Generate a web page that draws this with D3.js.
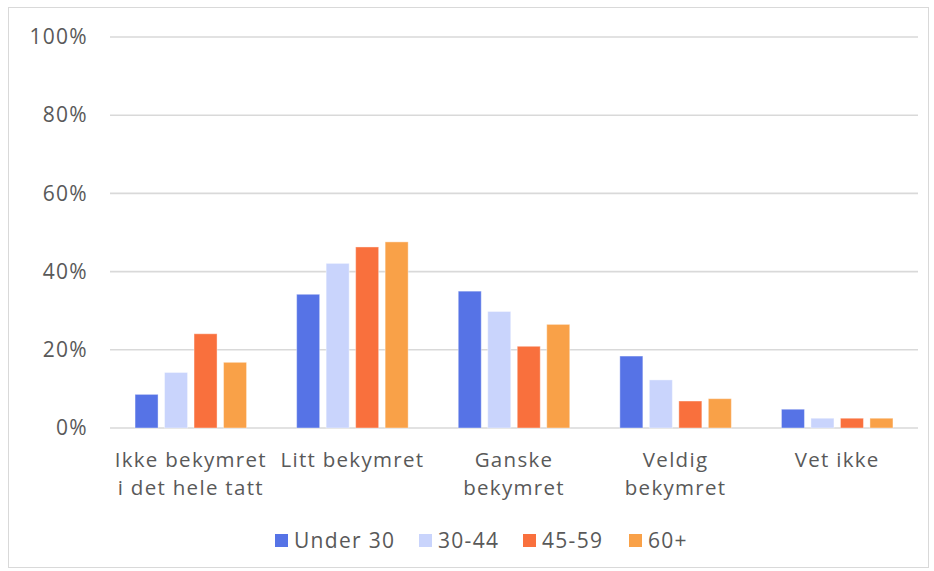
<!DOCTYPE html>
<html>
<head>
<meta charset="utf-8">
<script src="https://cdn.jsdelivr.net/npm/d3@7"></script>
<style>
  body { margin: 0; background: #fff; }
  svg { font-family: "Open Sans", "Noto Sans", sans-serif; }
  svg text { letter-spacing: 1.3px; }
</style>
</head>
<body>
<svg width="934" height="571"></svg>
<script>
// data
var categories = [["Ikke bekymret", "i det hele tatt"], ["Litt bekymret"], ["Ganske", "bekymret"], ["Veldig", "bekymret"], ["Vet ikke"]];
var seriesNames = ["Under 30", "30-44", "45-59", "60+"];
var under30 = [8.6, 34.2, 35.0, 18.4, 4.8];
var age30_44 = [14.2, 42.1, 29.8, 12.3, 2.5];
var age45_59 = [24.1, 46.3, 20.9, 6.9, 2.5];
var age60 = [16.8, 47.6, 26.5, 7.5, 2.5];
var colors = ["#5673E6", "#C9D4FC", "#F9703D", "#F9A148"];
var yTicks = [0, 20, 40, 60, 80, 100];

var series = [under30, age30_44, age45_59, age60];

var svg = d3.select("svg");

// chart frame
svg.append("rect")
  .attr("x", 8.5).attr("y", 7.5)
  .attr("width", 920).attr("height", 560)
  .attr("fill", "none")
  .attr("stroke", "#D9D9D9");

var plot = {left: 110, right: 918, top: 37, bottom: 428};

var x0 = d3.scaleBand()
  .domain(d3.range(categories.length))
  .range([plot.left, plot.right])
  .paddingInner(0.31)
  .paddingOuter(0.155);

var x1 = d3.scaleBand()
  .domain(d3.range(series.length))
  .range([0, x0.bandwidth()])
  .paddingInner(0.22);

var y = d3.scaleLinear()
  .domain([0, 100])
  .range([plot.bottom, plot.top]);

// gridlines
svg.append("g").selectAll("line")
  .data(yTicks)
  .enter().append("line")
  .attr("x1", plot.left).attr("x2", plot.right)
  .attr("y1", function(d) { return y(d); })
  .attr("y2", function(d) { return y(d); })
  .attr("stroke", "#D9D9D9")
  .attr("stroke-width", 1.6);

// y axis labels
var yAxis = d3.axisLeft(y)
  .tickValues(yTicks)
  .tickFormat(function(d) { return d + "%"; })
  .tickSize(0)
  .tickPadding(22);

var gY = svg.append("g")
  .attr("transform", "translate(" + plot.left + ",0)")
  .call(yAxis);
gY.select(".domain").remove();
gY.selectAll("text")
  .attr("fill", "#595959")
  .style("font-size", "21px")
  .style("font-family", "'Open Sans', 'Noto Sans', sans-serif");

// bars
var groups = svg.append("g").selectAll("g")
  .data(categories)
  .enter().append("g")
  .attr("transform", function(d, i) { return "translate(" + x0(i) + ",0)"; });

groups.selectAll("rect")
  .data(function(d, i) { return series.map(function(s, j) { return {s: j, v: s[i]}; }); })
  .enter().append("rect")
  .attr("x", function(d) { return x1(d.s); })
  .attr("width", x1.bandwidth())
  .attr("y", function(d) { return y(d.v); })
  .attr("height", function(d) { return y(0) - y(d.v); })
  .attr("fill", function(d) { return colors[d.s]; })
  .attr("stroke", "#fff")
  .attr("stroke-opacity", 0.4)
  .attr("stroke-width", 1);

// category labels, one text per line
var gX = svg.append("g");
categories.forEach(function(lines, i) {
  lines.forEach(function(l, k) {
    gX.append("text")
      .attr("x", x0(i) + x0.bandwidth() / 2)
      .attr("y", 467 + k * 28)
      .attr("text-anchor", "middle")
      .attr("fill", "#595959")
      .style("font-size", "20.5px")
      .text(l);
  });
});

// legend
var legendX = [275, 419, 523, 629];
var legend = svg.append("g").selectAll("g")
  .data(seriesNames)
  .enter().append("g")
  .attr("transform", function(d, i) { return "translate(" + legendX[i] + ",534)"; });

legend.append("rect")
  .attr("width", 13).attr("height", 13)
  .attr("fill", function(d, i) { return colors[i]; });

legend.append("text")
  .attr("x", 19)
  .attr("y", 14)
  .attr("fill", "#595959")
  .style("font-size", "21px")
  .text(function(d) { return d; });
</script>
</body>
</html>
